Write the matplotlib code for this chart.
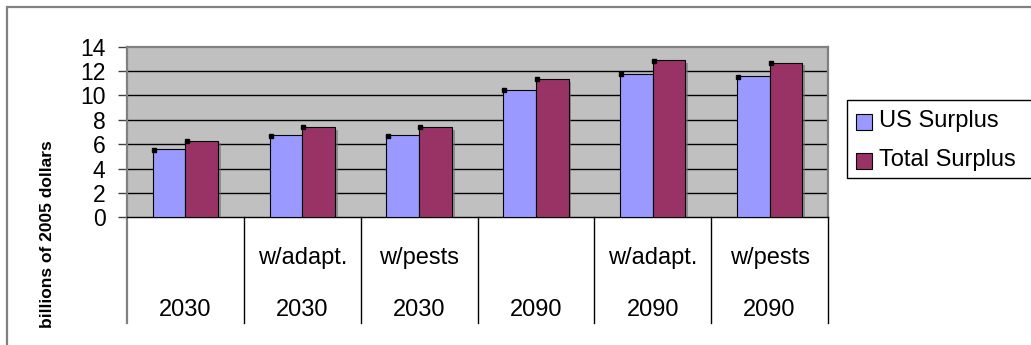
import matplotlib
matplotlib.use("Agg")
import matplotlib.pyplot as plt
from matplotlib.patches import Rectangle
from matplotlib.lines import Line2D
import matplotlib.patheffects as pe

plt.rcParams['font.family'] = ['Liberation Sans', 'DejaVu Sans']

# Data
scenario = ["", "w/adapt.", "w/pests", "", "w/adapt.", "w/pests"]
years = ["2030", "2030", "2030", "2090", "2090", "2090"]
us_surplus = [5.6, 6.75, 6.75, 10.47, 11.8, 11.57]
total_surplus = [6.3, 7.43, 7.43, 11.37, 12.88, 12.69]
series_names = ["US Surplus", "Total Surplus"]
yticks = [0, 2, 4, 6, 8, 10, 12, 14]

W, H = 1031, 345
fig = plt.figure(figsize=(W / 100, H / 100), dpi=100)

# outer chart frame (runs off the right and bottom edges)
fig.patches.append(Rectangle((7 / W, -0.2), 1.2, 1 - 7 / H + 0.2, transform=fig.transFigure,
                             fill=False, edgecolor="#808080", linewidth=1.6))

x0, x1 = 127, 828
ytop, ybot = 46.7, 217.3
ax = fig.add_axes([x0 / W, 1 - ybot / H, (x1 - x0) / W, (ybot - ytop) / H])
ax.set_facecolor("#C0C0C0")
ax.set_xlim(-0.5, 5.5)
ax.set_ylim(0, 14)

for v in yticks[1:-1]:
    ax.axhline(v, color="black", linewidth=1.0, zorder=1)

n = len(years)
xs = list(range(n))
w = 0.28
shadow = [pe.SimplePatchShadow(offset=(2, -2), shadow_rgbFace="#6e6e6e", alpha=0.6), pe.Normal()]
ax.bar([x - w / 2 for x in xs], us_surplus, width=w, color="#9999FF",
       edgecolor="black", linewidth=0.8, zorder=3, path_effects=shadow)
ax.bar([x + w / 2 for x in xs], total_surplus, width=w, color="#993366",
       edgecolor="black", linewidth=0.8, zorder=3, path_effects=shadow)
# small corner markers just inside the top-left of each bar
ax.plot([x - w + 0.01 for x in xs], [v - 0.06 for v in us_surplus], 's', color='black',
        markersize=2.2, zorder=4)
ax.plot([x + 0.01 for x in xs], [v - 0.06 for v in total_surplus], 's', color='black',
        markersize=2.2, zorder=4)

for s in ["top", "right", "left"]:
    ax.spines[s].set_color("#808080")
    ax.spines[s].set_linewidth(1.6)
ax.spines["bottom"].set_color("black")
ax.spines["bottom"].set_linewidth(1.0)

ax.set_yticks(yticks)
ax.set_yticklabels([str(v) for v in yticks], fontsize=16.5)
ax.tick_params(axis="y", direction="out", length=6.5, width=1.0, color="#404040", pad=9)
ax.set_xticks([])

# category table below the plot
tb = -(323 - ybot) / (ybot - ytop)
xt = ax.get_xaxis_transform()
ax.add_line(Line2D([-0.5, -0.5], [0, tb], transform=xt, color="#808080", linewidth=1.6, clip_on=False))
for b in range(1, n + 1):
    ax.add_line(Line2D([b - 0.5, b - 0.5], [0, tb], transform=xt, color="black",
                       linewidth=1.0, clip_on=False))
y_l1 = -(258 - ybot) / (ybot - ytop)
y_l2 = -(310 - ybot) / (ybot - ytop)
for x, s, yr in zip(xs, scenario, years):
    if s:
        ax.text(x, y_l1, s, transform=xt, ha="center", va="center", fontsize=17)
    ax.text(x, y_l2, yr, transform=xt, ha="center", va="center", fontsize=17)

fig.text(48 / W, 1 - 234 / H, "billions of 2005 dollars", rotation=90, ha="center",
         va="center", fontsize=12.5, fontweight="bold")

# legend
lx0, ly0, ly1 = 847, 100, 178
fig.patches.append(Rectangle((lx0 / W, 1 - ly1 / H), 0.5, (ly1 - ly0) / H,
                             transform=fig.transFigure, facecolor="white",
                             edgecolor="black", linewidth=1.0))
for cy, col, name in [(122, "#9999FF", series_names[0]), (161, "#993366", series_names[1])]:
    fig.patches.append(Rectangle((856 / W, 1 - (cy + 8) / H), 16 / W, 16 / H,
                                 transform=fig.transFigure, facecolor=col,
                                 edgecolor="black", linewidth=0.8))
    fig.text(879 / W, 1 - (cy - 1) / H, name, ha="left", va="center", fontsize=17)

fig.savefig("out.png", dpi=100, facecolor="white")
